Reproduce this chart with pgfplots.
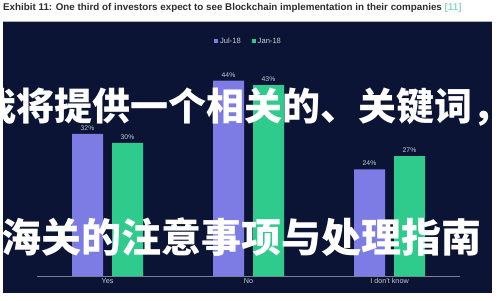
\documentclass[border=0pt]{standalone}
\usepackage{pgfplots}
\pgfplotsset{compat=1.18}
\usepackage{fontspec}
\setmainfont{Liberation Sans}
\newfontfamily\cjk{Noto Sans CJK SC}

\definecolor{panel}{HTML}{0B1434}
\definecolor{julbar}{HTML}{7C7CE4}
\definecolor{janbar}{HTML}{2FCB8C}
\definecolor{labgray}{HTML}{C8CCD8}
\definecolor{axisline}{HTML}{7A8296}
\definecolor{titlegray}{HTML}{2E2E2E}
\definecolor{reftext}{HTML}{8FD6C8}

\begin{document}
\begin{tikzpicture}
  \useasboundingbox (0pt,0pt) rectangle (500pt,300pt);
  % page and dark panel
  \fill[white] (0pt,0pt) rectangle (500pt,300pt);
  \fill[panel] (3pt,7pt) rectangle (492pt,279pt);
  \draw[gray!60,line width=0.8pt] (3pt,279pt) -- (492pt,279pt);

  % heading
  \node[anchor=west,inner sep=0pt,font=\bfseries\fontsize{9.8}{11}\selectfont,text=titlegray]
    at (3pt,292pt) {Exhibit 11: One third of investors expect to see Blockchain implementation in their companies \textcolor{reftext}{[11]}};

  \begin{axis}[
    at={(37pt,24pt)}, anchor=south west,
    scale only axis,
    width=423pt, height=222pt,
    xmin=-0.5, xmax=2.5,
    ymin=0, ymax=50,
    ybar=9pt, bar width=31pt,
    axis y line=none,
    axis x line*=bottom,
    x axis line style={axisline,line width=0.8pt,-},
    xtick={0,1,2},
    xticklabels={Yes,No,I don't know},
    major tick length=0pt,
    /pgf/number format/assume math mode=true,
    xticklabel style={font=\fontsize{7.2}{8}\selectfont,text=labgray,yshift=1pt},
    nodes near coords={\pgfmathprintnumber{\pgfplotspointmeta}\%},
    nodes near coords style={font=\fontsize{6.8}{8}\selectfont,text=labgray,yshift=0pt},
    legend columns=2,
    legend style={at={(0.5,1)},anchor=south,yshift=5pt,draw=none,fill=none,
      font=\fontsize{7.6}{9}\selectfont,text=labgray,
      /tikz/every even column/.append style={column sep=9pt}},
    legend image code/.code={\fill[#1] (0pt,-2pt) rectangle (4pt,2pt);},
  ]
    \addplot[draw=none,fill=julbar] coordinates {(0,32) (1,44) (2,24)};
    \addplot[draw=none,fill=janbar] coordinates {(0,30) (1,43) (2,27)};
    \legend{Jul-18,Jan-18}
  \end{axis}

  % overlaid text, kept inside the page
  \begin{scope}
    \clip (0pt,0pt) rectangle (500pt,300pt);
    \node[anchor=west,inner sep=0pt,text=white,font=\cjk\bfseries\fontsize{38}{41}\selectfont]
      at (-22pt,193pt) {我将提供一个相关的、关键词，};
    \node[anchor=west,inner sep=0pt,text=white,font=\cjk\bfseries\fontsize{40}{42}\selectfont]
      at (1pt,63pt) {海关的注意事项与处理指南};
  \end{scope}
\end{tikzpicture}
\end{document}
